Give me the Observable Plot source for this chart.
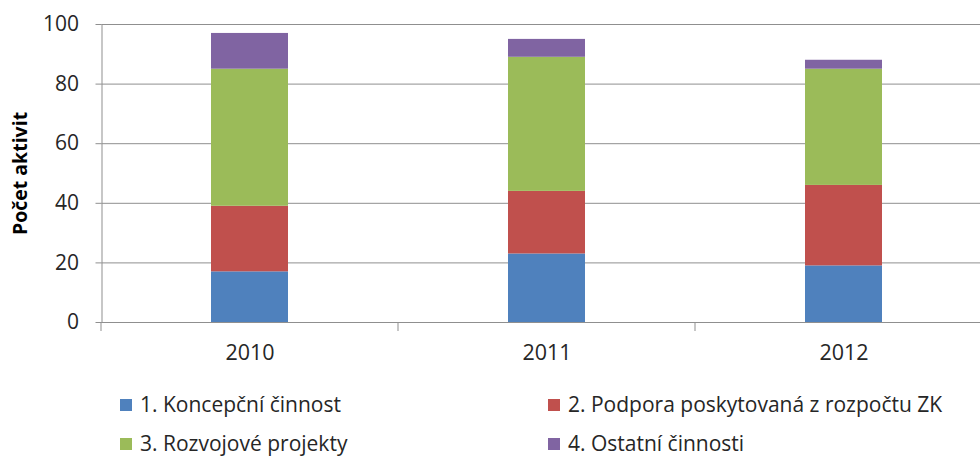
<!DOCTYPE html>
<html>
<head>
<meta charset="utf-8">
<script src="https://cdn.jsdelivr.net/npm/d3@7"></script>
<script src="https://cdn.jsdelivr.net/npm/@observablehq/plot@0.6"></script>
<style>
  html, body { margin: 0; padding: 0; background: #fff; overflow: hidden; }
  body { width: 980px; height: 458px; font-family: "Open Sans", sans-serif; color: #262626; }
  #legend { position: relative; height: 78px; }
  .item { position: absolute; display: flex; align-items: center; font-size: 21px; white-space: nowrap; line-height: 1; }
  .sw { width: 12px; height: 12px; margin-right: 8px; }
</style>
</head>
<body>
<div id="chart"></div>
<div id="legend"></div>
<script>
const years = ["2010", "2011", "2012"];
const series = ["1. Koncepční činnost", "2. Podpora poskytovaná z rozpočtu ZK", "3. Rozvojové projekty", "4. Ostatní činnosti"];
const koncepcni = [17, 23, 19];
const podpora = [22, 21, 27];
const rozvojove = [46, 45, 39];
const ostatni = [12, 6, 3];
const colors = ["#4F81BD", "#C0504D", "#9BBB59", "#8064A2"];
const yTicks = [0, 20, 40, 60, 80, 100];
const yTitle = "Počet aktivit";

const seriesValues = [koncepcni, podpora, rozvojove, ostatni];
const data = [];
series.forEach((s, si) => years.forEach((y, yi) => data.push({year: y, series: s, value: seriesValues[si][yi]})));

const grid = "#8f8f8f";

// category separators below the baseline (band boundaries)
function separators(index, scales, values, dims) {
  const x = scales.x, y = scales.y;
  const bw = x.bandwidth ? x.bandwidth() : 0;
  const step = x.step ? x.step() : (x(years[1]) - x(years[0]));
  const g = d3.create("svg:g");
  const y0 = y(0);
  const bounds = years.map(c => x(c) + bw / 2 - step / 2);
  bounds.push(x(years[years.length - 1]) + bw / 2 + step / 2);
  for (const b of bounds) {
    g.append("line").attr("x1", b).attr("x2", b).attr("y1", y0).attr("y2", y0 + 9)
      .attr("stroke", grid).attr("stroke-width", 1);
  }
  return g.node();
}

const chart = Plot.plot({
  width: 980,
  height: 380,
  marginTop: 24,
  marginBottom: 58,
  marginLeft: 101.5,
  marginRight: 0,
  style: {fontFamily: "'Open Sans', sans-serif", fontSize: "21px", color: "#262626", background: "#fff"},
  x: {domain: years, range: [101.5, 992.5], paddingInner: 0.74, paddingOuter: 0.37, label: null},
  y: {domain: [0, 100], label: null},
  color: {domain: series, range: colors},
  marks: [
    Plot.ruleY(yTicks, {stroke: grid, strokeWidth: 1, strokeOpacity: 1}),
    Plot.frame({anchor: "left", stroke: grid, strokeWidth: 1}),
    Plot.barY(data, Plot.stackY({x: "year", y: "value", fill: "series", order: null})),
    Plot.ruleY([0], {stroke: grid, strokeWidth: 1}),
    separators,
    Plot.axisY({ticks: yTicks, tickSize: 6, tickPadding: 17, stroke: grid, fontSize: 21, label: null}),
    Plot.axisX({tickSize: 0, tickPadding: 22, fontSize: 21.5, label: null}),
    Plot.text([yTitle], {frameAnchor: "left", textAnchor: "middle", rotate: -90, dx: -81.5, fontWeight: "bold", fontSize: 19.5, fill: "#000"})
  ]
});
document.getElementById("chart").appendChild(chart);

const legend = document.getElementById("legend");
const pos = [[120, 25], [548, 25], [120, 64], [548, 64]];
series.forEach((s, i) => {
  const it = document.createElement("div");
  it.className = "item";
  it.style.left = pos[i][0] + "px";
  it.style.top = (pos[i][1] - 11) + "px";
  it.innerHTML = `<span class="sw" style="background:${colors[i]}"></span><span>${s}</span>`;
  legend.appendChild(it);
});
</script>
</body>
</html>
